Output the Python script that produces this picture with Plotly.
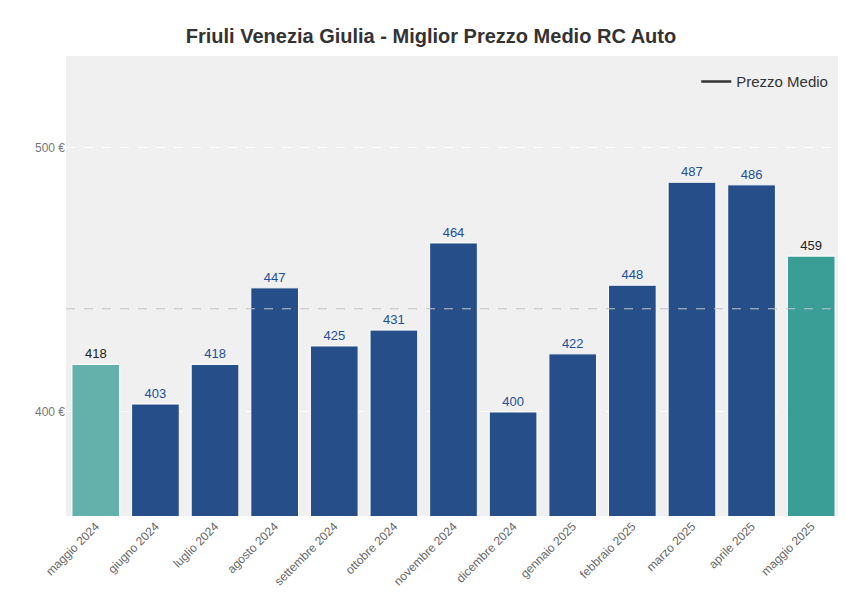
import plotly.graph_objects as go

mesi = ["maggio 2024", "giugno 2024", "luglio 2024", "agosto 2024", "settembre 2024",
        "ottobre 2024", "novembre 2024", "dicembre 2024", "gennaio 2025", "febbraio 2025",
        "marzo 2025", "aprile 2025", "maggio 2025"]
prezzi = [418, 403, 418, 447, 425, 431, 464, 400, 422, 448, 487, 486, 459]

media = sum(prezzi) / len(prezzi)

colori = ["#64b1ab"] + ["#264f8a"] * 11 + ["#3a9e97"]
colori_testo = ["#222222"] + ["#1f4e96"] * 11 + ["#222222"]

fig = go.Figure()
fig.add_trace(go.Bar(
    x=mesi, y=prezzi,
    marker=dict(color=colori, line=dict(color="white", width=1)),
    text=[str(v) for v in prezzi],
    textposition="outside",
    textfont=dict(color=colori_testo, size=13, family="Arial Black, Arial"),
    cliponaxis=False,
    showlegend=False,
    width=0.8,
))
# legend entry for the average line
fig.add_trace(go.Scatter(
    x=[None], y=[None], mode="lines",
    line=dict(color="#333333", width=2.5),
    name="Prezzo Medio",
))
fig.add_hline(y=media, line=dict(color="#c0c4cc", width=1, dash="dash"))

fig.update_layout(
    title=dict(text="<b>Friuli Venezia Giulia - Miglior Prezzo Medio RC Auto</b>",
               x=0.5, y=0.965, font=dict(size=20, color="#333333", family="Arial")),
    width=846, height=610,
    paper_bgcolor="white",
    plot_bgcolor="#f0f0f0",
    margin=dict(l=58, r=13, t=48, b=102),
    font=dict(family="Arial", color="#777777"),
    bargap=0.2,
    legend=dict(x=0.99, y=0.98, xanchor="right", yanchor="top",
                bgcolor="rgba(0,0,0,0)", font=dict(size=15, color="#333333")),
    xaxis=dict(tickangle=-45, tickfont=dict(size=12, color="#666666"), showgrid=False),
    yaxis=dict(range=[360.6, 534.8], tickvals=[400, 500], ticktext=["400 €", "500 €"],
               tickfont=dict(size=12, color="#777777"),
               gridcolor="white", griddash="dash", zeroline=False),
)

fig.write_html("out.html")
